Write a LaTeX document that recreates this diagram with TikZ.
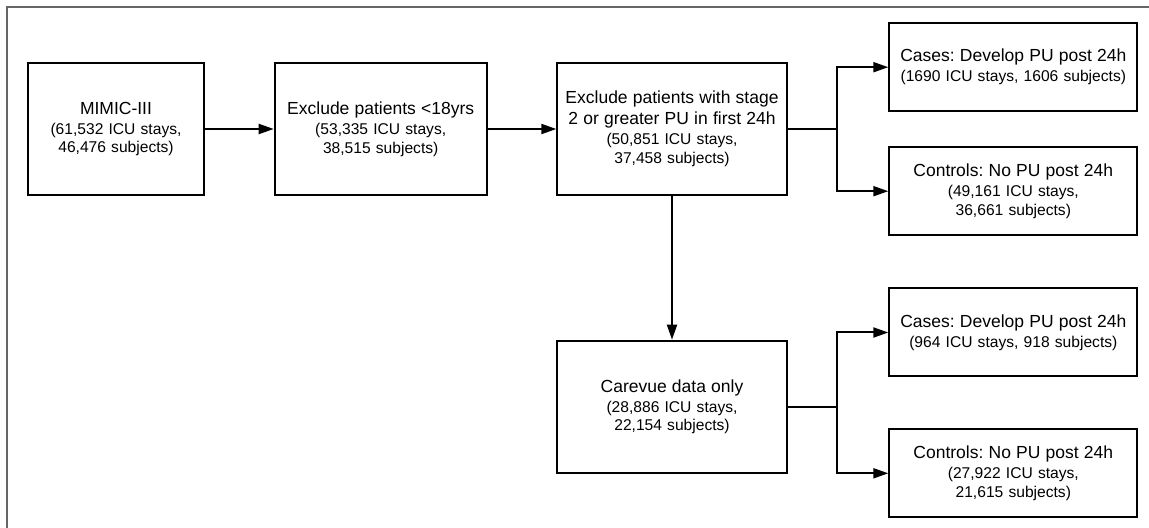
\documentclass[tikz,border=0pt]{standalone}
\usepackage{fontspec}
\setmainfont{Liberation Sans}
\usetikzlibrary{arrows.meta}
\frenchspacing
\newcommand{\headsz}{\fontsize{8.75}{10}\selectfont}
\newcommand{\countsz}{\fontsize{7.8}{9.3}\selectfont}

\begin{document}
\begin{tikzpicture}[x=0.5pt, y=-0.5pt, >={Triangle[length=7.5pt,width=5pt]},
  flow/.style={draw, line width=1pt, inner sep=0pt, align=center, minimum height=66pt, font=\countsz},
  outcome/.style={flow, minimum width=124pt, text width=118pt, minimum height=44pt},
  link/.style={->, line width=1pt}]
  \useasboundingbox (0,0) rectangle (1149,528);
  \draw[black!60, line width=1pt] (6.7,528) -- (6.7,7.3) -- (1149,7.3);

  \node[flow, minimum width=88pt, text width=82pt] (mimic) at (116,129)
    {{\headsz MIMIC-III}\\[0.7pt](61,532 ICU stays,\\46,476 subjects)};
  \node[flow, minimum width=106pt, text width=100pt] (adult) at (380.7,129)
    {{\headsz Exclude patients <18yrs}\\[0.7pt](53,335 ICU stays,\\38,515 subjects)};
  \node[flow, minimum width=114.7pt, text width=110pt] (stage) at (672,129)
    {{\headsz Exclude patients with stage}\\[1.2pt]{\headsz 2 or greater PU in first 24h}\\[0.7pt](50,851 ICU stays,\\37,458 subjects)};
  \node[flow, minimum width=114.7pt, text width=110pt] (carevue) at (672,406.7)
    {{\headsz Carevue data only}\\[0.7pt](28,886 ICU stays,\\22,154 subjects)};

  \node[outcome] (casesA) at (1013.3,67.2)
    {{\headsz Cases: Develop PU post 24h}\\[0.7pt](1690 ICU stays, 1606 subjects)};
  \node[outcome] (ctrlA) at (1013.3,191.2)
    {{\headsz Controls: No PU post 24h}\\[0.7pt](49,161 ICU stays,\\36,661 subjects)};
  \node[outcome] (casesB) at (1013.3,332.5)
    {{\headsz Cases: Develop PU post 24h}\\[0.7pt](964 ICU stays, 918 subjects)};
  \node[outcome] (ctrlB) at (1013.3,473.3)
    {{\headsz Controls: No PU post 24h}\\[0.7pt](27,922 ICU stays,\\21,615 subjects)};

  \coordinate (splitA) at (837.3,129);
  \coordinate (splitB) at (837.3,406.7);

  \draw[link] (mimic) -- (adult);
  \draw[link] (adult) -- (stage);
  \draw[link] (stage) -- (carevue);

  \draw[line width=1pt] (stage.east) -- (splitA);
  \draw[link] (splitA) |- (casesA.west);
  \draw[link] (splitA) |- (ctrlA.west);
  \draw[line width=1pt] (carevue.east) -- (splitB);
  \draw[link] (splitB) |- (casesB.west);
  \draw[link] (splitB) |- (ctrlB.west);
\end{tikzpicture}
\end{document}
